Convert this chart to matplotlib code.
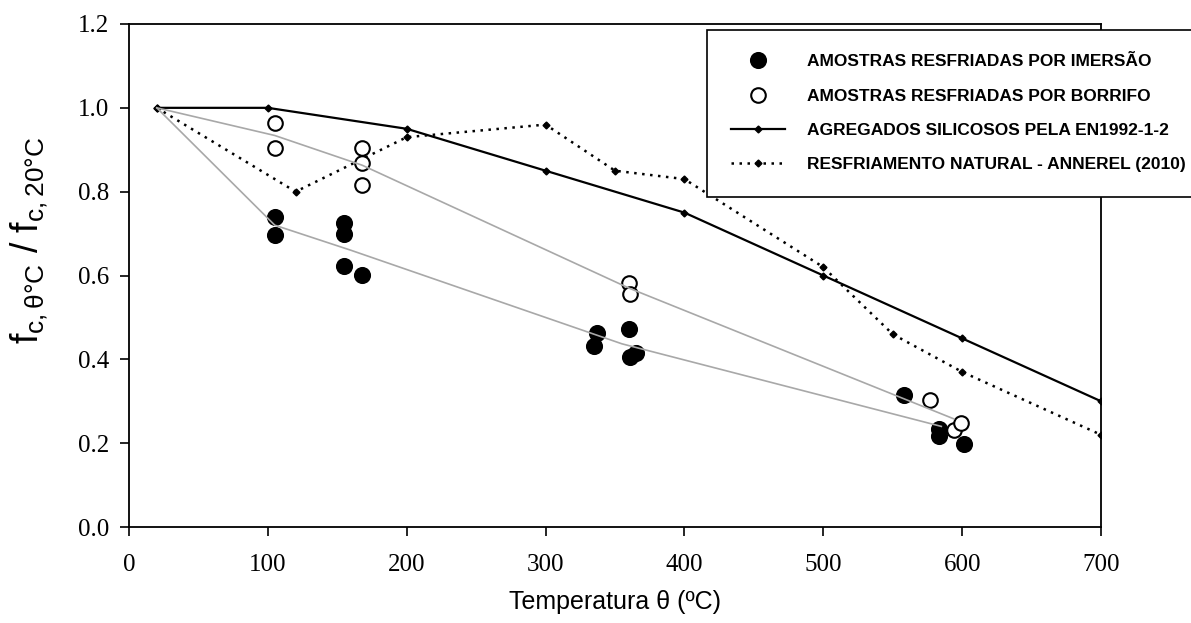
import matplotlib
matplotlib.use("Agg")
import matplotlib.pyplot as plt
from matplotlib.ticker import FormatStrFormatter

plt.rcParams['mathtext.fontset'] = 'custom'
plt.rcParams['mathtext.rm'] = 'Liberation Sans'
plt.rcParams['mathtext.it'] = 'Liberation Sans'

# measured samples (immersion = filled, spray = open)
imm_x = [105, 105, 155, 155, 155, 168, 337, 335, 360, 361, 365, 558, 583, 583, 601]
imm_y = [0.740, 0.696, 0.725, 0.698, 0.622, 0.602, 0.463, 0.432, 0.473, 0.405, 0.415,
         0.315, 0.233, 0.217, 0.199]
spray_x = [105, 105, 168, 168, 168, 360, 361, 577, 594, 599]
spray_y = [0.963, 0.905, 0.905, 0.868, 0.817, 0.583, 0.557, 0.303, 0.232, 0.248]

# gray lines through group means
imm_fit_x = [20, 105, 160, 355, 585]
imm_fit_y = [1.0, 0.72, 0.66, 0.437, 0.24]
spray_fit_x = [20, 105, 168, 360, 594]
spray_fit_y = [1.0, 0.934, 0.863, 0.57, 0.258]

# reference curves
en_x = [20, 100, 200, 300, 400, 500, 600, 700]
en_y = [1.0, 1.0, 0.95, 0.85, 0.75, 0.60, 0.45, 0.30]
ann_x = [20, 120, 200, 300, 350, 400, 500, 550, 600, 700]
ann_y = [1.0, 0.80, 0.93, 0.96, 0.85, 0.83, 0.62, 0.46, 0.37, 0.22]

labels = ["AMOSTRAS RESFRIADAS POR IMERSÃO",
          "AMOSTRAS RESFRIADAS POR BORRIFO",
          "AGREGADOS SILICOSOS PELA EN1992-1-2",
          "RESFRIAMENTO NATURAL - ANNEREL (2010)"]

fig = plt.figure(figsize=(11.91, 6.23), dpi=100)
ax = fig.add_axes([129/1191, 1-527/623, (1101-129)/1191, (527-24)/623])

gray = '#a8a8a8'
ax.plot(imm_fit_x, imm_fit_y, color=gray, lw=1.2, zorder=4)
ax.plot(spray_fit_x, spray_fit_y, color=gray, lw=1.2, zorder=4)

h1, = ax.plot(imm_x, imm_y, 'o', color='black', ms=11.3, ls='none', zorder=3)
h2, = ax.plot(spray_x, spray_y, 'o', mfc='white', mec='black', mew=1.5, ms=10.5,
              ls='none', zorder=3)
h3, = ax.plot(en_x, en_y, '-', color='black', lw=1.6, marker='D', ms=3.5, zorder=2)
h4, = ax.plot(ann_x, ann_y, color='black', lw=1.8, ls=(0, (1, 2.2)), marker='D',
              ms=3.5, zorder=2)

ax.set_xlim(0, 700)
ax.set_ylim(0, 1.2)
ax.set_xticks(range(0, 701, 100))
ax.set_yticks([0.0, 0.2, 0.4, 0.6, 0.8, 1.0, 1.2])
ax.yaxis.set_major_formatter(FormatStrFormatter('%.1f'))
ax.tick_params(direction='out', length=6.5, width=1.2, labelsize=18)
ax.tick_params(axis='x', pad=13)
ax.tick_params(axis='y', pad=8)
for lab in ax.get_xticklabels() + ax.get_yticklabels():
    lab.set_fontfamily('Liberation Serif')
for sp in ax.spines.values():
    sp.set_linewidth(1.3)

ax.set_xlabel('Temperatura θ (ºC)', fontsize=18, family='Liberation Sans', labelpad=10)
ax.set_ylabel(r'$\mathrm{f_{c,θ°C}\ /\ f_{c,20°C}}$', fontsize=27)
ax.yaxis.set_label_coords(-0.081, 0.57)

leg = fig.legend([h1, h2, h3, h4], labels, loc='upper left',
                 bbox_to_anchor=(707/1191, 1-30/623), borderaxespad=0,
                 numpoints=1, handlelength=3.1, handletextpad=1.25,
                 labelspacing=1.1, borderpad=1.4, fancybox=False,
                 framealpha=1, edgecolor='black',
                 prop={'family': 'Liberation Sans', 'weight': 'bold', 'size': 12.5})
leg.get_frame().set_linewidth(1.2)

fig.savefig('out.png', dpi=100)
